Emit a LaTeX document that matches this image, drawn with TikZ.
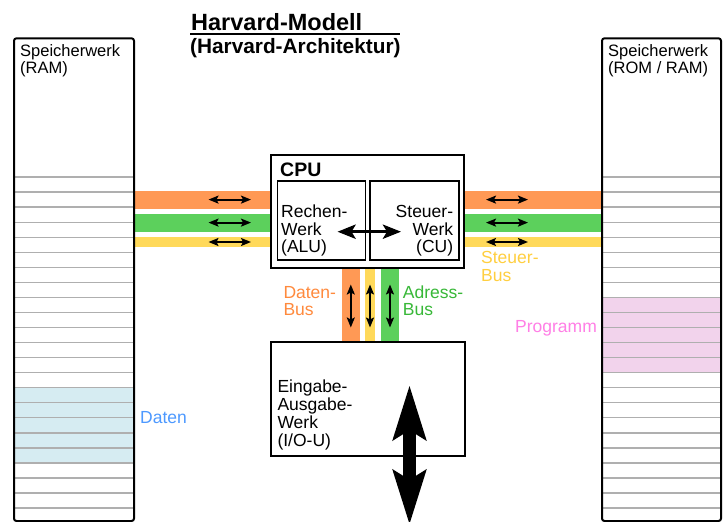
\documentclass[tikz,border=0pt]{standalone}
\usepackage{fontspec}
\setmainfont{Liberation Sans}
\usetikzlibrary{arrows.meta}
\definecolor{busorange}{HTML}{FF9955}
\definecolor{busgreen}{HTML}{5CD05C}
\definecolor{busyellow}{HTML}{FFD95A}
\definecolor{txtorange}{HTML}{FF8A3D}
\definecolor{txtgreen}{HTML}{38B838}
\definecolor{txtyellow}{HTML}{FFCF40}
\definecolor{txtpink}{HTML}{FF7FE6}
\definecolor{txtblue}{HTML}{4D99FF}
\definecolor{cellblue}{HTML}{D6ECF2}
\definecolor{cellpink}{HTML}{F2D3EC}
\definecolor{cellgray}{HTML}{AFAFAF}
\begin{document}
\begin{tikzpicture}[x=1pt,y=-1pt,
  lbl/.style={inner sep=0pt, font=\fontsize{17.5}{18}\selectfont},
  memlbl/.style={inner sep=0pt, font=\fontsize{16.5}{17}\selectfont},
  membox/.style={draw=black, line width=2pt, rounded corners=2.5pt},
  unitbox/.style={draw=black, line width=2pt},
  subbox/.style={draw=black, line width=1.5pt},
  cellline/.style={draw=cellgray, line width=1.3pt},
  smallarr/.style={line width=1.8pt, {Stealth[length=10pt,width=8pt,inset=2pt]}-{Stealth[length=10pt,width=8pt,inset=2pt]}},
  midarr/.style={line width=3.5pt, {Stealth[length=18pt,width=14pt,inset=4pt]}-{Stealth[length=18pt,width=14pt,inset=4pt]}},
  bigarr/.style={line width=12.5pt, {Stealth[length=54pt,width=32pt,inset=9pt]}-{Stealth[length=54pt,width=32pt,inset=9pt]}}]
\useasboundingbox (0,0) rectangle (723,522);
\fill[white] (0,0) rectangle (723,522);

% title
\node[inner sep=0pt, anchor=base west, font=\fontsize{23.5}{24}\selectfont\bfseries] (title1) at (191,30) {Harvard-Modell};
\node[inner sep=0pt, anchor=base west, font=\fontsize{20.8}{21}\selectfont\bfseries] (title2) at (190,53) {(Harvard-Architektur)};
\draw[line width=2pt] (190,34.3) -- (399.5,34.3);

% horizontal buses
\fill[busorange] (134,190.7) rectangle (271,208.5);
\fill[busgreen]  (134,213.5) rectangle (271,231.7);
\fill[busyellow] (134,237.3) rectangle (271,246.7);
\fill[busorange] (464,190.7) rectangle (602,208.5);
\fill[busgreen]  (464,213.5) rectangle (602,231.7);
\fill[busyellow] (464,237.3) rectangle (602,246.7);

% vertical buses
\fill[busorange] (341.7,267) rectangle (360,341.5);
\fill[busyellow] (365,267) rectangle (375,341.5);
\fill[busgreen]  (380.7,267) rectangle (399,341.5);

% memory cell fills
\fill[cellblue] (14,387.7) rectangle (134,463);
\fill[cellpink] (602,297.4) rectangle (721,372.7);
\foreach \k in {0,...,22} {
  \draw[cellline] (14,{177+15.05*\k}) -- (134,{177+15.05*\k});
  \draw[cellline] (602,{177+15.05*\k}) -- (721,{177+15.05*\k});
}

% memory boxes
\draw[membox] (14,38.3) rectangle (134,521);
\draw[membox] (602,38.3) rectangle (721,521);
\node[memlbl, anchor=base west] (ram1) at (20,56) {Speicherwerk};
\node[memlbl, anchor=base west] (ram2) at (20,73) {(RAM)};
\node[memlbl, anchor=base west] (rom1) at (608,56) {Speicherwerk};
\node[memlbl, anchor=base west] (rom2) at (608,73) {(ROM / RAM)};

% CPU
\coordinate (aluend) at (337.5,231.7);
\coordinate (cuend) at (401,231.7);
\draw[midarr] (aluend) -- (cuend);
\draw[unitbox] (271,155) rectangle (464,267.5);
\draw[subbox] (277.7,181) rectangle (365.7,260);
\draw[subbox] (370,181) rectangle (459,260);
\node[inner sep=0pt, anchor=base west, font=\fontsize{19.5}{20}\selectfont\bfseries] (cpu) at (280,176) {CPU};
\node[lbl, anchor=base west] (alu1) at (281,217) {Rechen-};
\node[lbl, anchor=base west] (alu2) at (281,235) {Werk};
\node[lbl, anchor=base west] (alu3) at (281,252.5) {(ALU)};
\node[lbl, anchor=base east] (cu1) at (453.3,217) {Steuer-};
\node[lbl, anchor=base east] (cu2) at (453.3,235) {Werk};
\node[lbl, anchor=base east] (cu3) at (453.3,252.5) {(CU)};

% small bus arrows
\foreach \y/\n in {199.6/o,222.6/g,242/y} {
  \coordinate (l\n a) at (208.5,\y); \coordinate (l\n b) at (251,\y);
  \coordinate (r\n a) at (486,\y); \coordinate (r\n b) at (528,\y);
  \draw[smallarr] (l\n a) -- (l\n b);
  \draw[smallarr] (r\n a) -- (r\n b);
}
\foreach \x/\n in {350.8/o,370/y,390/g} {
  \coordinate (v\n a) at (\x,284.5); \coordinate (v\n b) at (\x,327.5);
  \draw[smallarr] (v\n a) -- (v\n b);
}

% bus labels
\node[lbl, anchor=base west, text=txtorange] (db1) at (283.3,298.3) {Daten-};
\node[lbl, anchor=base west, text=txtorange] (db2) at (283.3,315.7) {Bus};
\node[lbl, anchor=base west, text=txtgreen] (ab1) at (402.7,298.3) {Adress-};
\node[lbl, anchor=base west, text=txtgreen] (ab2) at (402.7,315.7) {Bus};
\node[lbl, anchor=base west, text=txtyellow] (sb1) at (481,263.3) {Steuer-};
\node[lbl, anchor=base west, text=txtyellow] (sb2) at (481,281) {Bus};
\node[lbl, anchor=base west, text=txtpink] (prog) at (515,332.7) {Programm};
\node[lbl, anchor=base west, text=txtblue] (daten) at (140,423.5) {Daten};

% I/O unit
\coordinate (iotop) at (409.5,385);
\coordinate (iobot) at (409.5,525);
\draw[bigarr] (iotop) -- (iobot);
\draw[unitbox] (271,341.5) rectangle (465,455.5);
\node[lbl, anchor=base west] (io1) at (277.3,392.8) {Eingabe-};
\node[lbl, anchor=base west] (io2) at (277.3,410.5) {Ausgabe-};
\node[lbl, anchor=base west] (io3) at (277.3,428.3) {Werk};
\node[lbl, anchor=base west] (io4) at (277.3,446) {(I/O-U)};
\end{tikzpicture}
\end{document}
